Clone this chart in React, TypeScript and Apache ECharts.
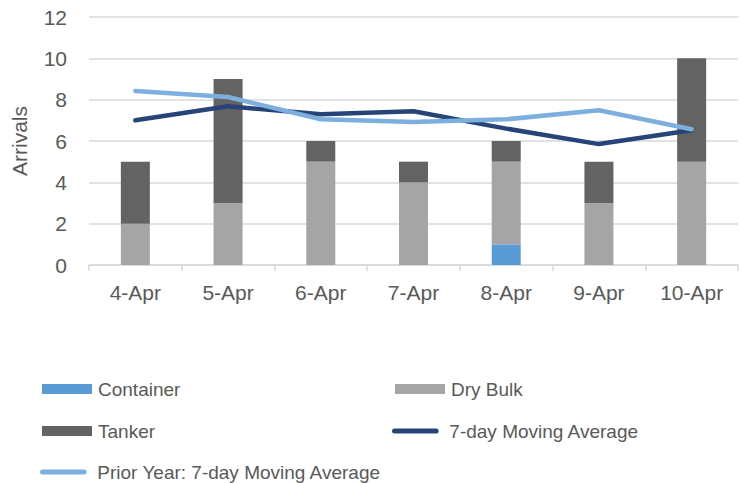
import React, { useEffect, useRef } from "react";
import * as echarts from "echarts";

const categories = ["4-Apr", "5-Apr", "6-Apr", "7-Apr", "8-Apr", "9-Apr", "10-Apr"];
const container = [0, 0, 0, 0, 1, 0, 0];
const dryBulk = [2, 3, 5, 4, 4, 3, 5];
const tanker = [3, 6, 1, 1, 1, 2, 5];
const movingAvg = [7.0, 7.68, 7.3, 7.44, 6.6, 5.85, 6.52];
const priorYearAvg = [8.42, 8.13, 7.05, 6.92, 7.05, 7.49, 6.57];
const yTicks = { min: 0, max: 12, interval: 2 };

const FONT = "'Liberation Sans', Arial, sans-serif";
const TEXT = "#595959";
const C_CONTAINER = "#5B9BD5";
const C_DRY = "#A5A5A5";
const C_TANKER = "#636363";
const C_MA = "#264478";
const C_PRIOR = "#7CAFDD";

const CAPSULE = "path://M3,0 L53,0 A3,3 0 0 1 53,6 L3,6 A3,3 0 0 1 3,0 Z";

function legendAt(name: string, left: number, centerY: number, isLine: boolean) {
  return {
    data: [name],
    left,
    top: centerY - 10,
    orient: "horizontal",
    padding: 0,
    itemWidth: isLine ? 56 : 50,
    itemHeight: isLine ? 5 : 10,
    icon: isLine ? CAPSULE : "rect",
    selectedMode: false,
    textStyle: { fontFamily: FONT, fontSize: 19, color: TEXT, lineHeight: 20, padding: [0, 0, 0, 1] },
  };
}

export default function App() {
  const ref = useRef<HTMLDivElement>(null);
  useEffect(() => {
    if (!ref.current) return;
    const chart = echarts.init(ref.current, null, { renderer: "svg" });
    chart.setOption({
      animation: false,
      backgroundColor: "#ffffff",
      grid: { left: 89, right: 2, top: 17, bottom: 218, containLabel: false, outerBoundsMode: "none" },
      legend: [
        legendAt("Container", 42, 389, false),
        legendAt("Dry Bulk", 395, 389, false),
        legendAt("Tanker", 42, 431, false),
        legendAt("7-day Moving Average", 392, 431, true),
        legendAt("Prior Year: 7-day Moving Average", 40, 472, true),
      ],
      xAxis: {
        type: "category",
        data: categories,
        boundaryGap: true,
        axisLine: { show: true, lineStyle: { color: "#D9D9D9", width: 1.5 } },
        axisTick: { show: true, length: 6, lineStyle: { color: "#D9D9D9", width: 1.5 } },
        axisLabel: { fontFamily: FONT, fontSize: 21, color: TEXT, margin: 17 },
      },
      yAxis: {
        type: "value",
        min: yTicks.min,
        max: yTicks.max,
        interval: yTicks.interval,
        name: "Arrivals",
        nameLocation: "middle",
        nameRotate: 90,
        nameGap: 59,
        nameTextStyle: { fontFamily: FONT, fontSize: 21, color: TEXT },
        axisLine: { show: false },
        axisTick: { show: false },
        axisLabel: { fontFamily: FONT, fontSize: 21, color: TEXT, margin: 22 },
        splitLine: { show: true, lineStyle: { color: "#D9D9D9", width: 1.5 } },
      },
      series: [
        { name: "Container", type: "bar", stack: "a", data: container, barWidth: 29, itemStyle: { color: C_CONTAINER } },
        { name: "Dry Bulk", type: "bar", stack: "a", data: dryBulk, barWidth: 29, itemStyle: { color: C_DRY } },
        { name: "Tanker", type: "bar", stack: "a", data: tanker, barWidth: 29, itemStyle: { color: C_TANKER } },
        {
          name: "7-day Moving Average",
          type: "line",
          data: movingAvg,
          symbol: "none",
          itemStyle: { color: C_MA },
          lineStyle: { color: C_MA, width: 4.5, cap: "round", join: "round" },
        },
        {
          name: "Prior Year: 7-day Moving Average",
          type: "line",
          data: priorYearAvg,
          symbol: "none",
          itemStyle: { color: C_PRIOR },
          lineStyle: { color: C_PRIOR, width: 4.5, cap: "round", join: "round" },
        },
      ],
    });
    return () => chart.dispose();
  }, []);
  return <div ref={ref} style={{ position: "fixed", left: 0, top: 0, width: 740, height: 483 }} />;
}
